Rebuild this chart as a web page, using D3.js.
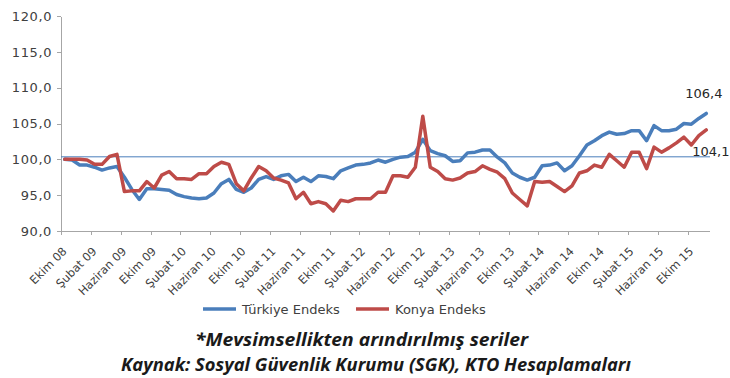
<!DOCTYPE html>
<html lang="tr">
<head>
<meta charset="utf-8">
<script src="https://cdn.jsdelivr.net/npm/d3@7/dist/d3.min.js"></script>
<style>
  html, body { margin: 0; padding: 0; background: #ffffff; }
  svg { display: block; }
  .axis text { font-family: "DejaVu Sans", sans-serif; fill: #404040; }
  .axis path, .axis line { stroke: #a6a6a6; shape-rendering: crispEdges; }
</style>
</head>
<body>
<svg id="chart" width="730" height="378"></svg>
<script>
// Aylık endeks serileri, Ekim 2008 - Aralık 2015 (mevsimsellikten arındırılmış)
const monthNames = ["Ocak", "Şubat", "Mart", "Nisan", "Mayıs", "Haziran",
                    "Temmuz", "Ağustos", "Eylül", "Ekim", "Kasım", "Aralık"];
const startYear = 2008, startMonth = 9;   // Ekim 2008
const monthCount = 87;                    // Aralık 2015'e kadar

const turkiye = [
  100.0, 99.9, 99.2, 99.2, 98.9, 98.5, 98.8, 99.0, 97.5, 95.8,
  94.4, 95.9, 95.9, 95.8, 95.7, 95.1, 94.8, 94.6, 94.5, 94.6,
  95.3, 96.6, 97.2, 95.8, 95.4, 96.0, 97.2, 97.6, 97.2, 97.7,
  97.9, 96.9, 97.5, 96.9, 97.7, 97.6, 97.3, 98.4, 98.8, 99.2,
  99.3, 99.5, 99.9, 99.6, 100.0, 100.3, 100.4, 101.0, 102.8, 101.2,
  100.8, 100.5, 99.7, 99.8, 100.9, 101.0, 101.3, 101.3, 100.3, 99.5,
  98.1, 97.5, 97.1, 97.5, 99.1, 99.2, 99.5, 98.4, 99.1, 100.5,
  102.0, 102.6, 103.3, 103.8, 103.5, 103.6, 104.0, 104.0, 102.6, 104.7,
  104.0, 104.0, 104.2, 105.0, 104.9, 105.7, 106.4
];
const konya = [
  100.0, 100.0, 100.0, 99.9, 99.3, 99.3, 100.4, 100.7, 95.5, 95.6,
  95.6, 96.9, 96.0, 97.8, 98.3, 97.3, 97.3, 97.2, 98.0, 98.0,
  99.0, 99.6, 99.3, 96.6, 95.6, 97.4, 99.0, 98.4, 97.4, 97.1,
  96.7, 94.5, 95.4, 93.8, 94.1, 93.8, 92.8, 94.3, 94.1, 94.5,
  94.5, 94.5, 95.4, 95.4, 97.7, 97.7, 97.5, 98.9, 106.0, 98.9,
  98.3, 97.3, 97.1, 97.4, 98.1, 98.3, 99.1, 98.6, 98.2, 97.3,
  95.3, 94.4, 93.5, 96.9, 96.8, 96.9, 96.2, 95.5, 96.3, 98.1,
  98.4, 99.2, 98.9, 100.7, 99.8, 98.9, 101.0, 101.0, 98.7, 101.7,
  101.0, 101.6, 102.3, 103.1, 102.0, 103.3, 104.1
];
const referenceLevel = 100.35;
const yTicks = [90, 95, 100, 105, 110, 115, 120];
const labelEvery = 4;

const seriesNames = ["Türkiye Endeks", "Konya Endeks"];
const seriesColors = ["#4a7ebb", "#be4b48"];
const footnotes = [
  "*Mevsimsellikten arındırılmış seriler",
  "Kaynak: Sosyal Güvenlik Kurumu (SGK), KTO Hesaplamaları"
];

// Ay etiketleri: "Ekim 08", "Kasım 08", ...
const categories = d3.range(monthCount).map(i => {
  const m = (startMonth + i) % 12;
  const y = startYear + Math.floor((startMonth + i) / 12);
  return monthNames[m] + " " + String(y % 100).padStart(2, "0");
});

const svg = d3.select("#chart");
const plot = { left: 61, right: 710, top: 16, bottom: 231 };

const x = d3.scaleLinear().domain([0, monthCount]).range([plot.left, plot.right]);
const y = d3.scaleLinear().domain([90, 120]).range([plot.bottom, plot.top]);
const cx = i => x(i + 0.5);

const fmt = v => d3.format(".1f")(v).replace(".", ",");

// Y ekseni
const yAxis = svg.append("g")
  .attr("class", "axis")
  .attr("transform", `translate(${plot.left},0)`)
  .call(d3.axisLeft(y).tickValues(yTicks).tickFormat(fmt).tickSize(4).tickSizeOuter(0).tickPadding(5));
yAxis.selectAll("text").style("font-size", "13px").style("letter-spacing", "0.6px");

// X ekseni
const xAxis = svg.append("g")
  .attr("class", "axis")
  .attr("transform", `translate(0,${plot.bottom})`)
  .call(d3.axisBottom(x)
    .tickValues(d3.range(0, monthCount, labelEvery))
    .tickFormat(i => categories[i])
    .tickSize(4).tickSizeOuter(0));
xAxis.select(".domain").attr("d", `M${plot.left},0.5H${plot.right}`);
xAxis.selectAll("text")
  .style("font-size", "11.5px")
  .attr("text-anchor", "end")
  .attr("dy", null)
  .attr("y", null)
  .attr("transform", "translate(6,21) rotate(-45)");

// 100 referans çizgisi
svg.append("line")
  .attr("x1", plot.left).attr("x2", plot.right)
  .attr("y1", y(referenceLevel)).attr("y2", y(referenceLevel))
  .attr("stroke", "#4a7ebb").attr("stroke-width", 1);

// Seriler
const line = d3.line().x((d, i) => cx(i)).y(d => y(d));
[turkiye, konya].forEach((series, k) => {
  svg.append("path")
    .datum(series)
    .attr("fill", "none")
    .attr("stroke", seriesColors[k])
    .attr("stroke-width", 3.5)
    .attr("stroke-linejoin", "round")
    .attr("stroke-linecap", "round")
    .attr("d", line);
});

// Son değer etiketleri
const last = monthCount - 1;
svg.append("text")
  .attr("x", cx(last) - 21).attr("y", y(turkiye[last]) - 15)
  .attr("font-family", "DejaVu Sans, sans-serif").attr("font-size", 13).attr("fill", "#262626")
  .text(fmt(turkiye[last]));
svg.append("text")
  .attr("x", cx(last) - 14).attr("y", y(konya[last]) + 26)
  .attr("font-family", "DejaVu Sans, sans-serif").attr("font-size", 13).attr("fill", "#262626")
  .text(fmt(konya[last]));

// Lejant
const legendX = [203, 356];
seriesNames.forEach((name, k) => {
  const g = svg.append("g").attr("transform", `translate(${legendX[k]},309)`);
  g.append("line").attr("x1", 0).attr("x2", 33).attr("y1", 0).attr("y2", 0)
    .attr("stroke", seriesColors[k]).attr("stroke-width", 3.5);
  g.append("text").attr("x", 39).attr("y", 4.5)
    .attr("font-family", "DejaVu Sans, sans-serif").attr("font-size", 13).attr("fill", "#404040")
    .text(name);
});

// Dipnotlar
const footY = [346, 371];
const footSpan = [[195, 528], [121, 631]];
footnotes.forEach((t, k) => {
  svg.append("text")
    .attr("x", footSpan[k][0]).attr("y", footY[k])
    .attr("textLength", footSpan[k][1] - footSpan[k][0])
    .attr("lengthAdjust", "spacingAndGlyphs")
    .attr("font-family", "Open Sans, sans-serif")
    .attr("font-weight", "bold").attr("font-style", "italic")
    .attr("font-size", 17).attr("fill", "#1a1a1a")
    .text(t);
});
</script>
</body>
</html>
